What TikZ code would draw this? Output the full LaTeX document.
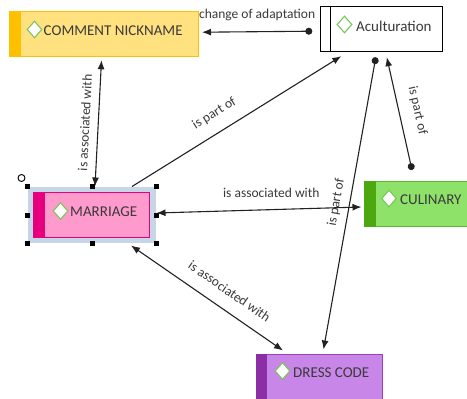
\documentclass[tikz,border=0pt]{standalone}
\usepackage{fontspec}
\setmainfont{Carlito}
\usetikzlibrary{calc,arrows.meta,shapes.geometric}
\definecolor{txt}{HTML}{3A3A3A}
\definecolor{cnfill}{HTML}{FFE27F}
\definecolor{cnbar}{HTML}{FFC000}
\definecolor{mfill}{HTML}{FF9ACD}
\definecolor{mbar}{HTML}{E6007E}
\definecolor{selc}{HTML}{C6D6E6}
\definecolor{cfill}{HTML}{8EE26A}
\definecolor{cbar}{HTML}{4CA80E}
\definecolor{cline}{HTML}{5CB82A}
\definecolor{dfill}{HTML}{C886E8}
\definecolor{dbar}{HTML}{8C2FA6}
\definecolor{dline}{HTML}{9A40B8}
\definecolor{dgreen}{HTML}{7CC55A}
\definecolor{lnc}{HTML}{222222}
\begin{document}
\begin{tikzpicture}[x=1pt,y=-1pt,
  box/.style={rectangle, inner sep=0pt, line width=1pt},
  diam/.style={diamond, draw=dgreen, fill=white, line width=1.1pt, inner sep=0pt, minimum width=15pt, minimum height=17pt},
  ntext/.style={font=\fontsize{15}{17}\selectfont, text=txt, inner sep=0pt, anchor=west},
  lbl/.style={font=\fontsize{13.5}{15}\selectfont, text=txt, inner sep=0pt},
  conn/.style={draw=lnc, line width=1.1pt},
  tip/.style={-{Latex[length=9pt,width=7pt]}},
  dtip/.style={{Latex[length=9pt,width=7pt]}-{Latex[length=9pt,width=7pt]}},
  dotst/.style={{Circle[length=7pt]}-{Latex[length=9pt,width=7pt]}},
  handle/.style={fill=black, minimum size=5pt, inner sep=0pt}]
\useasboundingbox (0,0) rectangle (467,399);
\fill[white] (0,0) rectangle (467,399);

% COMMENT NICKNAME
\node[box, fill=cnfill, draw=cnbar, minimum width=189pt, minimum height=45pt] (cn) at (103.5,34.2) {};
\fill[cnbar] (cn.north west) rectangle ($(cn.south west)+(12,0)$);
\node[diam] (cnd) at (34.5,29.5) {};
\node[ntext] (cnt) at (43.5,31) {COMMENT NICKNAME};

% Aculturation
\node[box, fill=white, draw=black, minimum width=122pt, minimum height=45pt] (acu) at (381.8,29.2) {};
\draw[line width=1pt] ($(acu.north west)+(10,0)$) -- ($(acu.south west)+(10,0)$);
\node[diam] (acud) at (344.5,24.5) {};
\node[ntext] (acut) at (356,26.5) {Aculturation};

% MARRIAGE (selected)
\node[box, fill=selc, minimum width=128pt, minimum height=56pt] (sel) at (92,215) {};
\node[box, fill=mfill, draw=mbar, minimum width=116pt, minimum height=45pt] (mar) at (91.5,215) {};
\fill[mbar] (mar.north west) rectangle ($(mar.south west)+(12,0)$);
\node[diam] (mard) at (60.5,211) {};
\node[ntext] (mart) at (70,211.5) {MARRIAGE};
\foreach \p/\n in {north west/a, north/b, north east/c, west/d, east/e, south west/f, south/g, south east/h}
  \node[handle] (h\n) at ($(sel.\p)+(0,0)$) {};
\node[circle, draw=black, line width=0.9pt, minimum size=7pt, inner sep=0pt] (rot) at (21.5,178) {};

% CULINARY
\node[box, fill=cfill, draw=cline, minimum width=110pt, minimum height=45pt, anchor=west] (cul) at (363.5,204) {};
\fill[cbar] (cul.north west) rectangle ($(cul.south west)+(12,0)$);
\node[diam] (culd) at (389,198.5) {};
\node[ntext] (cult) at (400,200) {CULINARY};

% DRESS CODE
\node[box, fill=dfill, draw=dline, minimum width=126pt, minimum height=50pt, anchor=north west] (dc) at (256,353.5) {};
\fill[dbar] (dc.north west) rectangle ($(dc.south west)+(11,0)$);
\node[diam] (dcd) at (282.5,371) {};
\node[ntext] (dct) at (293,373) {DRESS CODE};

% connectors
\draw[conn, dotst] ($(acu.west)+(-8,2)$) -- node[lbl, midway, yshift=17pt] (l1) {change of adaptation} ($(cn.east)+(3.5,-2)$);
\draw[conn, dtip] ($(sel.north)+(3,0)$) -- node[lbl, sloped, midway, above=8pt] (l2) {is associated with} ($(cn.south)+(-2,3)$);
\draw[conn, tip] ($(sel.north)+(40,0)$) -- node[lbl, sloped, pos=0.44, above=12pt] (l3) {is part of} ($(acu.south west)+(21,4)$);
\draw[conn, dtip] ($(sel.east)+(0,-2)$) -- node[lbl, pos=0.56, above=11pt] (l4) {is associated with} ($(cul.west)+(-2,3)$);
\draw[conn, dotst] ($(cul.north)+(-7,-11)$) -- node[lbl, sloped, pos=0.49, above=12pt] (l5) {is part of} ($(acu.south)+(5,5)$);
\draw[conn, dotst] ($(acu.south)+(-6,5)$) -- node[lbl, sloped, pos=0.505, above=7pt] (l6) {is part of} ($(dc.north)+(4,-4)$);
\draw[conn, dtip] ($(sel.south)+(39,2)$) -- node[lbl, sloped, pos=0.58, above=13pt] (l7) {is associated with} ($(dc.north west)+(27,-3)$);
\end{tikzpicture}
\end{document}
